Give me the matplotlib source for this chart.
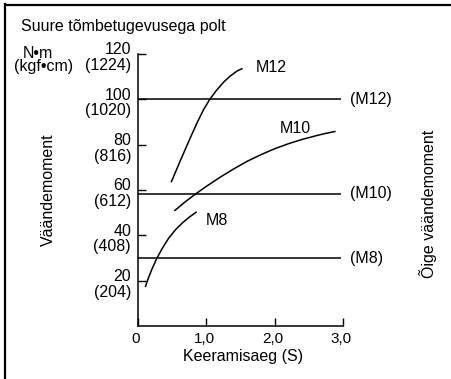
import matplotlib
matplotlib.use("Agg")
import matplotlib.pyplot as plt
from matplotlib.lines import Line2D
from matplotlib.transforms import ScaledTranslation

plt.rcParams['font.family'] = ['Liberation Sans', 'DejaVu Sans']

# torque curves (time [s], torque [N·m])
m12_t = [0.49, 0.55, 0.62, 0.70, 0.78, 0.87, 0.96, 1.05, 1.15, 1.25, 1.35, 1.45, 1.52]
m12_q = [63.7, 68.0, 73.0, 78.5, 84.0, 90.0, 95.5, 100.0, 104.0, 107.5, 110.3, 112.5, 113.5]
m10_t = [0.54, 0.70, 0.85, 1.00, 1.20, 1.40, 1.60, 1.80, 2.00, 2.20, 2.40, 2.60, 2.75, 2.88]
m10_q = [51.0, 55.0, 58.4, 61.6, 65.6, 69.3, 72.7, 75.6, 78.2, 80.4, 82.3, 83.9, 85.0, 85.8]
m8_t = [0.11, 0.15, 0.20, 0.27, 0.35, 0.45, 0.55, 0.65, 0.75, 0.85]
m8_q = [17.5, 21.0, 24.8, 29.5, 34.0, 38.8, 42.5, 45.5, 48.0, 50.2]

# proper torque levels
proper_q = [100, 58.3, 30]
proper_lbl = ["(M12)", "(M10)", "(M8)"]

yticks = [20, 40, 60, 80, 100, 120]
ytick_kgf = ["(204)", "(408)", "(612)", "(816)", "(1020)", "(1224)"]
xticks = [0, 1, 2, 3]
xtick_lbl = ["0", "1,0", "2,0", "3,0"]

W, H = 451, 379
FS = 11.5
fig = plt.figure(figsize=(W / 100, H / 100), dpi=100)

def px(x, y):
    return x / W, 1 - y / H

ax = fig.add_axes([138 / W, (H - 326) / H, 205 / W, 272 / H])
ax.set_xlim(0, 3)
ax.set_ylim(0, 120)
for s in ("top", "right"):
    ax.spines[s].set_visible(False)
for s in ("left", "bottom"):
    ax.spines[s].set_linewidth(1.1)

ax.set_xticks(xticks)
ax.set_xticklabels(xtick_lbl)
ax.set_yticks(yticks)
ax.set_yticklabels([f"{v}\n{k}" for v, k in zip(yticks, ytick_kgf)],
                   linespacing=1.05, multialignment="right")
ax.tick_params(direction="in", length=6, width=1.0, labelsize=FS, pad=5,
               colors="black")
ax.tick_params(axis="x", labelsize=11, pad=4)
shift = ScaledTranslation(0, -2 / 100, fig.dpi_scale_trans)
for lab in ax.get_yticklabels():
    lab.set_transform(lab.get_transform() + shift)
xshift = ScaledTranslation(-2 / 100, 0, fig.dpi_scale_trans)
for lab in ax.get_xticklabels():
    lab.set_transform(lab.get_transform() + xshift)

lw = 1.1
ax.plot(m12_t, m12_q, color="black", lw=lw, clip_on=False)
ax.plot(m10_t, m10_q, color="black", lw=lw, clip_on=False)
ax.plot(m8_t, m8_q, color="black", lw=lw, clip_on=False)
ax.hlines(proper_q, 0, 2.97, color="black", lw=lw)

for q, lbl in zip(proper_q, proper_lbl):
    ax.text(3.10, q, lbl, fontsize=FS, va="center", ha="left", clip_on=False)

ax.text(1.95, 114, "M12", fontsize=FS, ha="center", va="center")
ax.text(2.30, 87, "M10", fontsize=FS, ha="center", va="center")
ax.text(1.15, 46.5, "M8", fontsize=FS, ha="center", va="center")

fig.text(*px(21, 27), "Suure tõmbetugevusega polt", fontsize=FS, va="center")
fig.text(*px(37.5, 53), "N•m", fontsize=FS, va="center", ha="center")
fig.text(*px(43.5, 67), "(kgf•cm)", fontsize=FS, va="center", ha="center")
fig.text(*px(48, 190), "Väändemoment", fontsize=FS, rotation=90,
         va="center", ha="center")
fig.text(*px(428, 204), "Õige väändemoment", fontsize=FS, rotation=90,
         va="center", ha="center")
fig.text(*px(243, 349), "Keeramisaeg (S)", fontsize=FS, va="top", ha="center")

# outer frame (left and top edges visible)
fig.add_artist(Line2D([5 / W, 5 / W], [0, 1 - 4 / H], transform=fig.transFigure,
                      color="black", lw=1.6))
fig.add_artist(Line2D([5 / W, 1], [1 - 5 / H, 1 - 5 / H], transform=fig.transFigure,
                      color="black", lw=1.6))

fig.savefig("out.png", dpi=100)
